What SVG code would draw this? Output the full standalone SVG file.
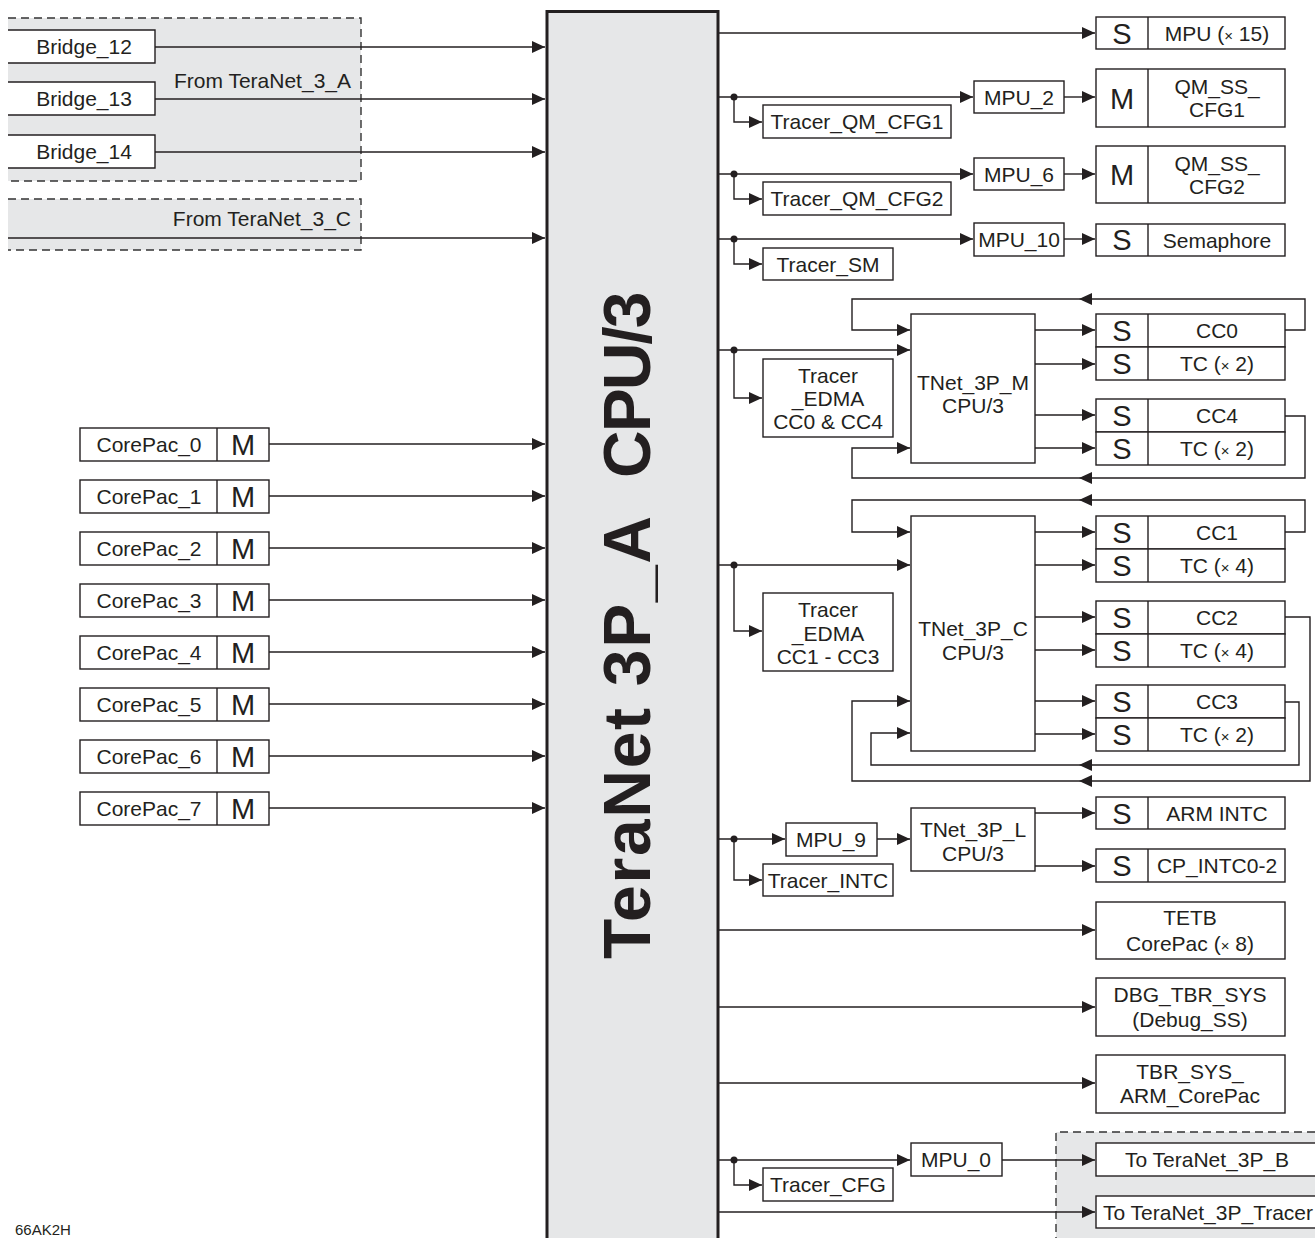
<svg xmlns="http://www.w3.org/2000/svg" width="1315" height="1238" viewBox="0 0 1315 1238">
<defs>
<marker id="ah" markerWidth="13" markerHeight="12" refX="13" refY="6" orient="auto" markerUnits="userSpaceOnUse">
<path d="M0,0 L13,6 L0,12 z" fill="#231f20"/>
</marker>
<style>
.ln{stroke:#231f20;stroke-width:1.4;fill:none}
.a{marker-end:url(#ah)}
.box{fill:#fff;stroke:#231f20;stroke-width:1.4}
.div{stroke:#231f20;stroke-width:1.4}
.t{font-family:"Liberation Sans",Arial,sans-serif;font-size:21px;fill:#231f20;text-anchor:middle}
.big{font-size:29px}
.x{font-size:15px}
.gray{fill:#e6e7e8}
.dash{fill:none;stroke:#333;stroke-width:1.4;stroke-dasharray:8 5}
.dot{fill:#231f20}
</style>
</defs>
<rect width="1315" height="1238" fill="#fff"/>

<!-- dashed regions -->
<g id="region-teranet3a">
<rect class="gray" x="8" y="18" width="353" height="163"/>
<path class="dash" d="M8,18 H361 V181 H8"/>
<text class="t" x="351" y="88" style="text-anchor:end">From TeraNet_3_A</text>
</g>
<g id="region-teranet3c">
<rect class="gray" x="8" y="199" width="353" height="51"/>
<path class="dash" d="M8,199 H361 V250 H8"/>
<text class="t" x="351" y="226" style="text-anchor:end">From TeraNet_3_C</text>
</g>
<g id="region-out">
<rect class="gray" x="1056" y="1132" width="270" height="120"/>
<path class="dash" d="M1056,1245 V1132 H1320"/>
</g>

<!-- main block -->
<g id="teranet3pa">
<rect x="547" y="11.5" width="171" height="1240" fill="#e6e7e8" stroke="#231f20" stroke-width="3"/>
<text transform="translate(650,959) rotate(-90)" style="font-family:'Liberation Sans',Arial,sans-serif;font-size:66px;font-weight:bold;fill:#231f20"><tspan style="letter-spacing:1.7px">TeraNet 3P_A</tspan><tspan x="481" style="letter-spacing:-2px">CPU/3</tspan></text>
</g>

<!-- connectors -->
<g id="connectors">
<path class="ln a" d="M155,47 H545"/>
<path class="ln a" d="M155,99 H545"/>
<path class="ln a" d="M155,152 H545"/>
<path class="ln a" d="M8,238 H545"/>
<path class="ln a" d="M269,444 H545"/>
<path class="ln a" d="M269,496 H545"/>
<path class="ln a" d="M269,548 H545"/>
<path class="ln a" d="M269,600 H545"/>
<path class="ln a" d="M269,652 H545"/>
<path class="ln a" d="M269,704 H545"/>
<path class="ln a" d="M269,756 H545"/>
<path class="ln a" d="M269,808 H545"/>

<path class="ln a" d="M719,33 H1095"/>

<path class="ln a" d="M719,97 H973"/>
<path class="ln a" d="M734,97 V122 H762"/>
<path class="ln a" d="M1064,97 H1095"/>
<circle class="dot" cx="734" cy="97" r="3.5"/>

<path class="ln a" d="M719,174 H973"/>
<path class="ln a" d="M734,174 V199 H762"/>
<path class="ln a" d="M1064,174 H1095"/>
<circle class="dot" cx="734" cy="174" r="3.5"/>

<path class="ln a" d="M719,239 H973"/>
<path class="ln a" d="M734,239 V264 H762"/>
<path class="ln a" d="M1064,239 H1095"/>
<circle class="dot" cx="734" cy="239" r="3.5"/>

<path class="ln a" d="M719,350 H910"/>
<path class="ln a" d="M734,350 V398 H762"/>
<circle class="dot" cx="734" cy="350" r="3.5"/>
<path class="ln a" d="M1285,330 H1305 V299 H1079"/>
<path class="ln a" d="M1079,299 H852 V330 H910"/>
<path class="ln a" d="M1285,416 H1305 V478 H1079"/>
<path class="ln a" d="M1079,478 H852 V448 H910"/>
<path class="ln a" d="M1035,330 H1095"/>
<path class="ln a" d="M1035,364 H1095"/>
<path class="ln a" d="M1035,415 H1095"/>
<path class="ln a" d="M1035,448 H1095"/>

<path class="ln a" d="M719,565 H910"/>
<path class="ln a" d="M734,565 V631 H762"/>
<circle class="dot" cx="734" cy="565" r="3.5"/>
<path class="ln a" d="M1285,532 H1305 V500 H1079"/>
<path class="ln a" d="M1079,500 H852 V532 H910"/>
<path class="ln a" d="M1285,617 H1310 V781 H1079"/>
<path class="ln a" d="M1079,781 H852 V701 H910"/>
<path class="ln a" d="M1285,702 H1299 V765 H1079"/>
<path class="ln a" d="M1079,765 H871 V733 H910"/>
<path class="ln a" d="M1035,532 H1095"/>
<path class="ln a" d="M1035,565 H1095"/>
<path class="ln a" d="M1035,617 H1095"/>
<path class="ln a" d="M1035,650 H1095"/>
<path class="ln a" d="M1035,701 H1095"/>
<path class="ln a" d="M1035,734 H1095"/>

<path class="ln a" d="M719,839 H785"/>
<path class="ln a" d="M734,839 V880 H762"/>
<circle class="dot" cx="734" cy="839" r="3.5"/>
<path class="ln a" d="M877,839 H910"/>
<path class="ln a" d="M1035,813 H1095"/>
<path class="ln a" d="M1035,866 H1095"/>

<path class="ln a" d="M719,930 H1095"/>
<path class="ln a" d="M719,1007 H1095"/>
<path class="ln a" d="M719,1083 H1095"/>

<path class="ln a" d="M719,1160 H910"/>
<path class="ln a" d="M734,1160 V1185 H762"/>
<circle class="dot" cx="734" cy="1160" r="3.5"/>
<path class="ln a" d="M1002,1160 H1095"/>
<path class="ln a" d="M719,1212 H1095"/>
</g>

<!-- left nodes -->
<g id="bridge12"><path class="box" d="M8,30 H155 V63 H8"/><text class="t" x="84" y="54">Bridge_12</text></g>
<g id="bridge13"><path class="box" d="M8,82 H155 V115 H8"/><text class="t" x="84" y="106">Bridge_13</text></g>
<g id="bridge14"><path class="box" d="M8,135 H155 V168 H8"/><text class="t" x="84" y="159">Bridge_14</text></g>

<g id="corepac0"><rect class="box" x="80" y="428" width="189" height="33"/><line class="div" x1="217" y1="428" x2="217" y2="461"/><text class="t" x="149" y="452">CorePac_0</text><text class="t big" x="243" y="455">M</text></g>
<g id="corepac1"><rect class="box" x="80" y="480" width="189" height="33"/><line class="div" x1="217" y1="480" x2="217" y2="513"/><text class="t" x="149" y="504">CorePac_1</text><text class="t big" x="243" y="507">M</text></g>
<g id="corepac2"><rect class="box" x="80" y="532" width="189" height="33"/><line class="div" x1="217" y1="532" x2="217" y2="565"/><text class="t" x="149" y="556">CorePac_2</text><text class="t big" x="243" y="559">M</text></g>
<g id="corepac3"><rect class="box" x="80" y="584" width="189" height="33"/><line class="div" x1="217" y1="584" x2="217" y2="617"/><text class="t" x="149" y="608">CorePac_3</text><text class="t big" x="243" y="611">M</text></g>
<g id="corepac4"><rect class="box" x="80" y="636" width="189" height="33"/><line class="div" x1="217" y1="636" x2="217" y2="669"/><text class="t" x="149" y="660">CorePac_4</text><text class="t big" x="243" y="663">M</text></g>
<g id="corepac5"><rect class="box" x="80" y="688" width="189" height="33"/><line class="div" x1="217" y1="688" x2="217" y2="721"/><text class="t" x="149" y="712">CorePac_5</text><text class="t big" x="243" y="715">M</text></g>
<g id="corepac6"><rect class="box" x="80" y="740" width="189" height="33"/><line class="div" x1="217" y1="740" x2="217" y2="773"/><text class="t" x="149" y="764">CorePac_6</text><text class="t big" x="243" y="767">M</text></g>
<g id="corepac7"><rect class="box" x="80" y="792" width="189" height="33"/><line class="div" x1="217" y1="792" x2="217" y2="825"/><text class="t" x="149" y="816">CorePac_7</text><text class="t big" x="243" y="819">M</text></g>

<!-- right nodes -->
<g id="mpu15"><rect class="box" x="1096" y="17" width="189" height="32"/><line class="div" x1="1148" y1="17" x2="1148" y2="49"/><text class="t big" x="1122" y="44">S</text><text class="t" x="1217" y="41">MPU (<tspan class="x">×</tspan> 15)</text></g>

<g id="tracer-qm-cfg1"><rect class="box" x="763" y="105" width="188" height="33"/><text class="t" x="857" y="129">Tracer_QM_CFG1</text></g>
<g id="mpu2"><rect class="box" x="974" y="81" width="90" height="32"/><text class="t" x="1019" y="105">MPU_2</text></g>
<g id="qm-ss-cfg1"><rect class="box" x="1096" y="69" width="189" height="58"/><line class="div" x1="1148" y1="69" x2="1148" y2="127"/><text class="t big" x="1122" y="109">M</text><text class="t" x="1217" y="94">QM_SS_</text><text class="t" x="1217" y="117">CFG1</text></g>

<g id="tracer-qm-cfg2"><rect class="box" x="763" y="182" width="188" height="33"/><text class="t" x="857" y="206">Tracer_QM_CFG2</text></g>
<g id="mpu6"><rect class="box" x="974" y="158" width="90" height="32"/><text class="t" x="1019" y="182">MPU_6</text></g>
<g id="qm-ss-cfg2"><rect class="box" x="1096" y="146" width="189" height="57"/><line class="div" x1="1148" y1="146" x2="1148" y2="203"/><text class="t big" x="1122" y="185">M</text><text class="t" x="1217" y="171">QM_SS_</text><text class="t" x="1217" y="194">CFG2</text></g>

<g id="tracer-sm"><rect class="box" x="763" y="248" width="130" height="32"/><text class="t" x="828" y="272">Tracer_SM</text></g>
<g id="mpu10"><rect class="box" x="974" y="223" width="90" height="33"/><text class="t" x="1019" y="247">MPU_10</text></g>
<g id="semaphore"><rect class="box" x="1096" y="224" width="189" height="32"/><line class="div" x1="1148" y1="224" x2="1148" y2="256"/><text class="t big" x="1122" y="250">S</text><text class="t" x="1217" y="248">Semaphore</text></g>

<g id="tracer-edma-cc0-cc4"><rect class="box" x="763" y="359" width="130" height="78"/><text class="t" x="828" y="383">Tracer</text><text class="t" x="828" y="406">_EDMA</text><text class="t" x="828" y="429">CC0 &amp; CC4</text></g>
<g id="tnet3pm"><rect class="box" x="911" y="314" width="124" height="149"/><text class="t" x="973" y="390">TNet_3P_M</text><text class="t" x="973" y="413">CPU/3</text></g>
<g id="cc0"><rect class="box" x="1096" y="314" width="189" height="33"/><rect class="box" x="1096" y="347" width="189" height="33"/><line class="div" x1="1148" y1="314" x2="1148" y2="380"/><text class="t big" x="1122" y="341">S</text><text class="t" x="1217" y="338">CC0</text><text class="t big" x="1122" y="374">S</text><text class="t" x="1217" y="371">TC (<tspan class="x">×</tspan> 2)</text></g>
<g id="cc4"><rect class="box" x="1096" y="399" width="189" height="33"/><rect class="box" x="1096" y="432" width="189" height="33"/><line class="div" x1="1148" y1="399" x2="1148" y2="465"/><text class="t big" x="1122" y="426">S</text><text class="t" x="1217" y="423">CC4</text><text class="t big" x="1122" y="459">S</text><text class="t" x="1217" y="456">TC (<tspan class="x">×</tspan> 2)</text></g>

<g id="tracer-edma-cc1-cc3"><rect class="box" x="763" y="593" width="130" height="78"/><text class="t" x="828" y="617">Tracer</text><text class="t" x="828" y="641">_EDMA</text><text class="t" x="828" y="664">CC1 - CC3</text></g>
<g id="tnet3pc"><rect class="box" x="911" y="516" width="124" height="235"/><text class="t" x="973" y="636">TNet_3P_C</text><text class="t" x="973" y="660">CPU/3</text></g>
<g id="cc1"><rect class="box" x="1096" y="516" width="189" height="33"/><rect class="box" x="1096" y="549" width="189" height="33"/><line class="div" x1="1148" y1="516" x2="1148" y2="582"/><text class="t big" x="1122" y="543">S</text><text class="t" x="1217" y="540">CC1</text><text class="t big" x="1122" y="576">S</text><text class="t" x="1217" y="573">TC (<tspan class="x">×</tspan> 4)</text></g>
<g id="cc2"><rect class="box" x="1096" y="601" width="189" height="33"/><rect class="box" x="1096" y="634" width="189" height="33"/><line class="div" x1="1148" y1="601" x2="1148" y2="667"/><text class="t big" x="1122" y="628">S</text><text class="t" x="1217" y="625">CC2</text><text class="t big" x="1122" y="661">S</text><text class="t" x="1217" y="658">TC (<tspan class="x">×</tspan> 4)</text></g>
<g id="cc3"><rect class="box" x="1096" y="685" width="189" height="33"/><rect class="box" x="1096" y="718" width="189" height="33"/><line class="div" x1="1148" y1="685" x2="1148" y2="751"/><text class="t big" x="1122" y="712">S</text><text class="t" x="1217" y="709">CC3</text><text class="t big" x="1122" y="745">S</text><text class="t" x="1217" y="742">TC (<tspan class="x">×</tspan> 2)</text></g>

<g id="mpu9"><rect class="box" x="786" y="823" width="91" height="33"/><text class="t" x="831" y="847">MPU_9</text></g>
<g id="tracer-intc"><rect class="box" x="763" y="864" width="130" height="32"/><text class="t" x="828" y="888">Tracer_INTC</text></g>
<g id="tnet3pl"><rect class="box" x="911" y="808" width="124" height="63"/><text class="t" x="973" y="837">TNet_3P_L</text><text class="t" x="973" y="861">CPU/3</text></g>
<g id="arm-intc"><rect class="box" x="1096" y="797" width="189" height="32"/><line class="div" x1="1148" y1="797" x2="1148" y2="829"/><text class="t big" x="1122" y="824">S</text><text class="t" x="1217" y="821">ARM INTC</text></g>
<g id="cp-intc"><rect class="box" x="1096" y="849" width="189" height="33"/><line class="div" x1="1148" y1="849" x2="1148" y2="882"/><text class="t big" x="1122" y="876">S</text><text class="t" x="1217" y="873">CP_INTC0-2</text></g>

<g id="tetb"><rect class="box" x="1096" y="902" width="189" height="57"/><text class="t" x="1190" y="925">TETB</text><text class="t" x="1190" y="951">CorePac (<tspan class="x">×</tspan> 8)</text></g>
<g id="dbg-tbr-sys"><rect class="box" x="1096" y="978" width="189" height="58"/><text class="t" x="1190" y="1002">DBG_TBR_SYS</text><text class="t" x="1190" y="1027">(Debug_SS)</text></g>
<g id="tbr-sys-arm"><rect class="box" x="1096" y="1055" width="189" height="58"/><text class="t" x="1190" y="1079">TBR_SYS_</text><text class="t" x="1190" y="1103">ARM_CorePac</text></g>

<g id="tracer-cfg"><rect class="box" x="763" y="1168" width="130" height="33"/><text class="t" x="828" y="1192">Tracer_CFG</text></g>
<g id="mpu0"><rect class="box" x="911" y="1143" width="91" height="33"/><text class="t" x="956" y="1167">MPU_0</text></g>
<g id="to-teranet3pb"><rect class="box" x="1096" y="1143" width="230" height="33"/><text class="t" x="1207" y="1167">To TeraNet_3P_B</text></g>
<g id="to-teranet3p-tracer"><rect class="box" x="1096" y="1196" width="230" height="32"/><text class="t" x="1208" y="1220">To TeraNet_3P_Tracer</text></g>

<text x="15" y="1235" style="font-family:'Liberation Sans',Arial,sans-serif;font-size:15px;fill:#231f20">66AK2H</text>
</svg>
